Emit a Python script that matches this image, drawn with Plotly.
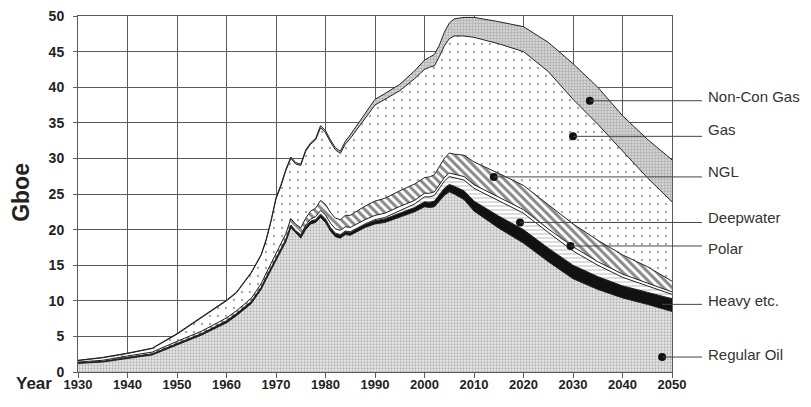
import plotly.graph_objects as go

# ---------------- data (Gboe per year) ----------------
years = [1930, 1935, 1940, 1945, 1950, 1955, 1960, 1962, 1965, 1967, 1968, 1969, 1970, 1971,
         1972, 1973, 1974, 1975, 1976,
         1977, 1978, 1979, 1980, 1981, 1982, 1983, 1984, 1985, 1988, 1990, 1992, 1995, 1998,
         2000, 2001, 2002, 2003, 2004, 2005, 2006, 2008, 2010, 2015, 2020, 2025, 2030, 2035,
         2040, 2045, 2050]

regular_oil = [1.2, 1.4, 1.9, 2.4, 3.8, 5.2, 6.9, 7.9, 9.6, 11.6, 13.0, 14.3, 15.6, 17.0,
               18.3, 20.3, 19.5, 18.8, 20.0,
               20.8, 21.0, 21.7, 21.0, 19.8, 19.0, 18.8, 19.3, 19.2, 20.3, 20.8, 21.0, 21.8, 22.5,
               23.2, 23.1, 23.2, 24.0, 24.8, 25.3, 25.0, 24.2, 22.6, 20.2, 18.1, 15.5, 13.1, 11.6,
               10.4, 9.5, 8.5]
heavy = [0.1, 0.1, 0.15, 0.15, 0.2, 0.2, 0.3, 0.3, 0.3, 0.3, 0.3, 0.35, 0.35, 0.35,
         0.35, 0.35, 0.35, 0.35, 0.35,
         0.35, 0.35, 0.4, 0.4, 0.4, 0.4, 0.4, 0.4, 0.4, 0.4, 0.45, 0.5, 0.55, 0.6,
         0.7, 0.75, 0.8, 0.9, 1.0, 1.05, 1.1, 1.25, 1.4, 1.7, 1.9, 1.9, 1.9, 1.8,
         1.7, 1.7, 1.8]
deepwater = [0, 0, 0, 0, 0, 0, 0, 0, 0, 0, 0, 0, 0, 0,
             0, 0, 0, 0.05, 0.05,
             0.05, 0.05, 0.1, 0.1, 0.1, 0.1, 0.1, 0.1, 0.1, 0.1, 0.15, 0.2, 0.35, 0.5,
             0.7, 0.75, 0.8, 0.9, 1.0, 1.1, 1.2, 1.5, 1.8, 2.2, 2.3, 2.2, 2.0, 1.6,
             1.2, 0.9, 0.6]
polar = [0, 0, 0, 0, 0, 0, 0, 0, 0, 0, 0, 0, 0, 0,
         0, 0, 0, 0.1, 0.2,
         0.3, 0.4, 0.5, 0.55, 0.6, 0.6, 0.6, 0.6, 0.6, 0.6, 0.6, 0.6, 0.55, 0.5,
         0.5, 0.5, 0.5, 0.5, 0.5, 0.5, 0.5, 0.5, 0.5, 0.5, 0.5, 0.5, 0.6, 0.5,
         0.45, 0.4, 0.35]
ngl = [0.1, 0.15, 0.2, 0.25, 0.3, 0.35, 0.4, 0.4, 0.45, 0.5, 0.55, 0.6, 0.7, 0.75,
       0.8, 0.9, 0.9, 0.95, 1.0,
       1.1, 1.2, 1.4, 1.5, 1.5, 1.5, 1.5, 1.6, 1.7, 1.9, 2.0, 2.1, 2.2, 2.3,
       2.2, 2.3, 2.4, 2.6, 2.7, 2.8, 2.8, 3.0, 3.2, 3.3, 3.4, 3.4, 3.2, 3.0,
       2.7, 2.3, 1.5]
gas = [0.2, 0.35, 0.35, 0.5, 1.0, 1.85, 2.4, 2.5, 3.55, 4.0, 4.6, 5.9, 7.65, 8.0,
       8.85, 8.45, 8.45, 8.75, 9.4,
       9.4, 9.6, 10.2, 10.05, 9.9, 9.6, 9.3, 10.0, 10.8, 12.4, 13.5, 13.9, 14.05, 14.8,
       15.2, 15.4, 15.3, 15.4, 15.8, 16.05, 16.6, 16.75, 17.5, 18.2, 18.8, 18.7, 17.5, 16.3,
       14.55, 12.5, 11.15]
noncon_gas = [0.05, 0.05, 0.05, 0.05, 0.1, 0.1, 0.1, 0.1, 0.1, 0.1, 0.15, 0.15, 0.2, 0.2,
              0.2, 0.2, 0.2, 0.2, 0.2,
              0.2, 0.2, 0.3, 0.3, 0.3, 0.3, 0.3, 0.4, 0.5, 0.7, 0.8, 0.8, 0.9, 1.1,
              1.3, 1.4, 1.6, 1.6, 1.9, 2.2, 2.4, 2.6, 2.8, 3.1, 3.5, 4.1, 5.0, 5.2,
              5.0, 5.4, 5.9]

# right-hand labels: name, leader-dot (year, value), text value
label_names = ["Non-Con Gas", "Gas", "NGL", "Deepwater", "Polar", "Heavy etc.", "Regular Oil"]
label_dot_year = [2033.4, 2030.0, 2014.0, 2019.3, 2029.5, 2048.0, 2048.0]
label_dot_value = [38.1, 33.1, 27.4, 21.0, 17.7, 9.5, 2.1]
label_text_value = [38.7, 34.0, 28.1, 21.7, 17.4, 10.0, 2.4]

x_ticks = list(range(1930, 2051, 10))
y_ticks = list(range(0, 51, 5))
X_MIN, X_MAX = 1930, 2050

# ---------------- figure ----------------
FONT = "Arial, Liberation Sans, sans-serif"
EDGE = "#222222"

layers = [
    ("Regular Oil", regular_oil, dict(shape=".", bgcolor="#ebebeb", fgcolor="#7d7d7d", size=3, solidity=0.45), None),
    ("Heavy etc.", heavy, None, "#111111"),
    ("Deepwater", deepwater, dict(shape="-", bgcolor="#ffffff", fgcolor="#8a8a8a", size=4, solidity=0.3), None),
    ("Polar", polar, None, "#ffffff"),
    ("NGL", ngl, dict(shape="\\", bgcolor="#ffffff", fgcolor="#111111", size=6, solidity=0.5), None),
    ("Gas", gas, dict(shape=".", bgcolor="#ffffff", fgcolor="#555555", size=8, solidity=0.08), None),
    ("Non-Con Gas", noncon_gas, dict(shape="+", bgcolor="#d2d2d2", fgcolor="#7a7a7a", size=3, solidity=0.3), None),
]

fig = go.Figure()
for name, vals, pat, solid in layers:
    kw = dict(x=years, y=vals, name=name, mode="lines", stackgroup="one",
              line=dict(color=EDGE, width=1), showlegend=False, hoverinfo="skip")
    if pat is not None:
        kw["fillpattern"] = pat
        kw["fillcolor"] = pat["bgcolor"]
    else:
        kw["fillcolor"] = solid
    fig.add_trace(go.Scatter(**kw))

# leader dots
fig.add_trace(go.Scatter(x=label_dot_year, y=label_dot_value, mode="markers",
                         marker=dict(color="#111111", size=8), cliponaxis=False,
                         showlegend=False, hoverinfo="skip"))

# leader lines + labels (paper coords computed from the axis range)
def to_paper(yr):
    return (yr - X_MIN) / (X_MAX - X_MIN)

LINE_END = 1.0505
for name, dx, dy, ty in zip(label_names, label_dot_year, label_dot_value, label_text_value):
    fig.add_shape(type="line", xref="paper", yref="y", x0=to_paper(dx), x1=LINE_END,
                  y0=dy, y1=dy, line=dict(color="#444444", width=1))
    fig.add_annotation(text=name, xref="paper", yref="y", x=1.058, y=ty,
                       xanchor="left", yanchor="middle", showarrow=False,
                       font=dict(family=FONT, size=15, color="#333333"))

fig.add_annotation(text="<b>Year</b>", xref="paper", yref="paper", x=-0.074, y=-0.032,
                   xanchor="center", yanchor="middle", showarrow=False,
                   font=dict(family=FONT, size=17, color="#222222"))
fig.add_annotation(text="<b>Gboe</b>", xref="paper", yref="paper", x=-0.096, y=0.506,
                   xanchor="center", yanchor="middle", showarrow=False, textangle=-90,
                   font=dict(family=FONT, size=23, color="#222222"))

fig.update_xaxes(range=[X_MIN, X_MAX], tickvals=x_ticks, ticktext=[str(t) for t in x_ticks],
                 showgrid=True, gridcolor="#5a5a5a", gridwidth=1, automargin=False,
                 showline=True, linecolor="#5a5a5a", linewidth=1, mirror=True,
                 ticks="outside", ticklen=5, tickcolor="#5a5a5a", zeroline=False,
                 ticklabelstandoff=-5, ticklabeloverflow="allow",
                 tickfont=dict(family=FONT, size=13, color="#222222", weight="bold"))
fig.update_yaxes(range=[0, 50], tickvals=y_ticks, showgrid=True, gridcolor="#5a5a5a", gridwidth=1,
                 showline=True, linecolor="#5a5a5a", linewidth=1, mirror=True, automargin=False,
                 ticks="outside", ticklen=4, tickcolor="#5a5a5a", zeroline=False,
                 ticklabelstandoff=6, ticklabeloverflow="allow",
                 tickfont=dict(family=FONT, size=14, color="#222222", weight="bold"))

# the page body adds an 8px margin, so the figure is 8px smaller and its
# left/top margins 8px narrower to land the plot area where the reference has it
fig.update_layout(width=803, height=399, margin=dict(l=70, r=139, t=8, b=35, autoexpand=False),
                  plot_bgcolor="#ffffff", paper_bgcolor="#ffffff", showlegend=False)

fig.write_html("out.html")
